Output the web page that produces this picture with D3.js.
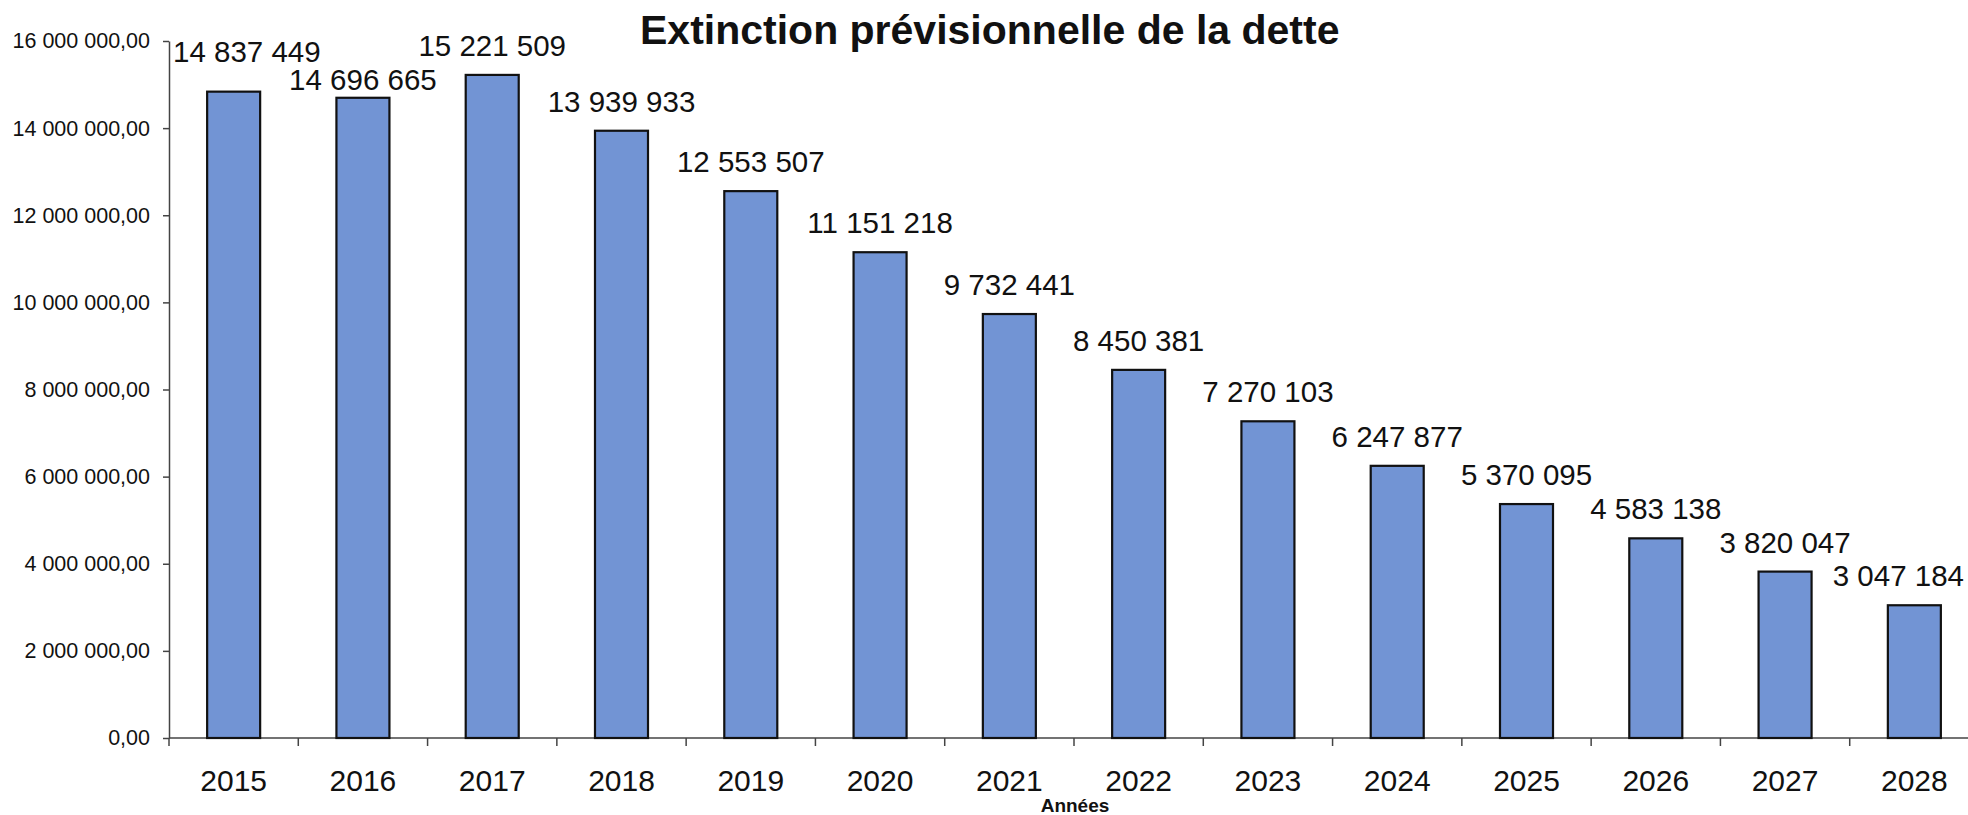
<!DOCTYPE html>
<html>
<head>
<meta charset="utf-8">
<script src="https://cdn.jsdelivr.net/npm/d3@7"></script>
<style>
  body { margin: 0; background: #fff; }
  svg { display: block; font-family: "Liberation Sans", Arial, sans-serif; }
  .axis path, .axis line { stroke: #444; stroke-width: 1.5; }
  .axis text { fill: #111; }
  .bar { fill: #7294d4; stroke: #111; stroke-width: 2.2; }
</style>
</head>
<body>
<svg id="chart" width="1968" height="815"></svg>
<script>
// data
var years = ["2015", "2016", "2017", "2018", "2019", "2020", "2021", "2022", "2023", "2024", "2025", "2026", "2027", "2028"];
var debt = [14837449, 14696665, 15221509, 13939933, 12553507, 11151218, 9732441, 8450381, 7270103, 6247877, 5370095, 4583138, 3820047, 3047184];
var yTicks = [0, 2000000, 4000000, 6000000, 8000000, 10000000, 12000000, 14000000, 16000000];
var title = "Extinction prévisionnelle de la dette";
var xTitle = "Années";

var svg = d3.select("#chart");
var svgWidth = +svg.attr("width");
var margin = { top: 41, left: 169, bottom: 77 };
var plotRight = 1979;
var height = +svg.attr("height") - margin.top - margin.bottom;
var width = plotRight - margin.left;

var frNum = d3.formatLocale({ decimal: ",", thousands: " ", grouping: [3], currency: ["", " €"] });
var fmtAxis = frNum.format(",.2f");
var fmtValue = frNum.format(",d");

var xScale = d3.scaleBand().domain(years).range([0, width]).paddingInner(0.59).paddingOuter(0.295);
var yScale = d3.scaleLinear().domain([0, 16000000]).range([height, 0]);

var g = svg.append("g")
    .attr("transform", "translate(" + margin.left + "," + margin.top + ")");

var yAxis = d3.axisLeft(yScale)
    .tickValues(yTicks)
    .tickFormat(fmtAxis)
    .tickSizeInner(6)
    .tickSizeOuter(0)
    .tickPadding(13);

g.append("g")
    .attr("class", "axis axis-y")
    .call(yAxis)
    .selectAll("text")
    .style("font-size", "21.5px");

// x axis: ticks sit between the categories
var xAxisG = g.append("g")
    .attr("class", "axis axis-x")
    .attr("transform", "translate(0," + height + ")");

xAxisG.append("line")
    .attr("x1", 0).attr("x2", width)
    .attr("y1", 0).attr("y2", 0);

xAxisG.selectAll(".tick-line")
    .data(years)
    .enter().append("line")
    .attr("class", "tick-line")
    .attr("x1", (d) => { return xScale(d) - xScale.step() * 0.295; })
    .attr("x2", (d) => { return xScale(d) - xScale.step() * 0.295; })
    .attr("y1", 0)
    .attr("y2", 8);

xAxisG.selectAll(".year")
    .data(years)
    .enter().append("text")
    .attr("class", "year")
    .attr("x", (d) => { return xScale(d) + xScale.bandwidth() / 2; })
    .attr("y", 53)
    .attr("text-anchor", "middle")
    .style("font-size", "30px")
    .style("fill", "#111")
    .text((d) => { return d; });

g.selectAll(".bar")
    .data(debt)
    .enter().append("rect")
    .attr("class", "bar")
    .attr("x", (d, i) => { return xScale(years[i]); })
    .attr("y", (d) => { return yScale(d); })
    .attr("width", xScale.bandwidth())
    .attr("height", (d) => { return height - yScale(d); });

// value labels, kept inside the chart area like the spreadsheet does
var labels = g.selectAll(".value")
    .data(debt)
    .enter().append("text")
    .attr("class", "value")
    .attr("text-anchor", "start")
    .style("font-size", "29.5px")
    .style("fill", "#111")
    .text((d) => { return fmtValue(d); });

var lineH = 28;
var boxes = [];
labels.each(function (d, i) {
    var w = this.getComputedTextLength();
    var x = xScale(years[i]) + xScale.bandwidth() / 2 - w / 2;
    x = Math.max(x, 4);
    x = Math.min(x, svgWidth - margin.left - w - 4);
    boxes.push({ x: x, w: w, y: yScale(d) - 19, v: d });
});

// push neighbouring labels apart when they collide
for (var pass = 0; pass < 5; pass++) {
    for (var i = 0; i < boxes.length - 1; i++) {
        var a = boxes[i], b = boxes[i + 1];
        if (a.x + a.w <= b.x) continue;
        var gap = Math.abs(a.y - b.y);
        if (gap >= lineH) continue;
        var shift = (lineH - gap) / 2;
        var hi = a.v >= b.v ? a : b;
        var lo = hi === a ? b : a;
        hi.y -= shift;
        lo.y += shift;
    }
}

labels
    .attr("x", (d, i) => { return boxes[i].x; })
    .attr("y", (d, i) => { return boxes[i].y; });

svg.append("text")
    .attr("x", 640)
    .attr("y", 44)
    .style("font-size", "41px")
    .style("font-weight", "bold")
    .style("fill", "#111")
    .text(title);

svg.append("text")
    .attr("x", 1075)
    .attr("y", 812)
    .attr("text-anchor", "middle")
    .style("font-size", "19px")
    .style("font-weight", "bold")
    .style("fill", "#111")
    .text(xTitle);
</script>
</body>
</html>
